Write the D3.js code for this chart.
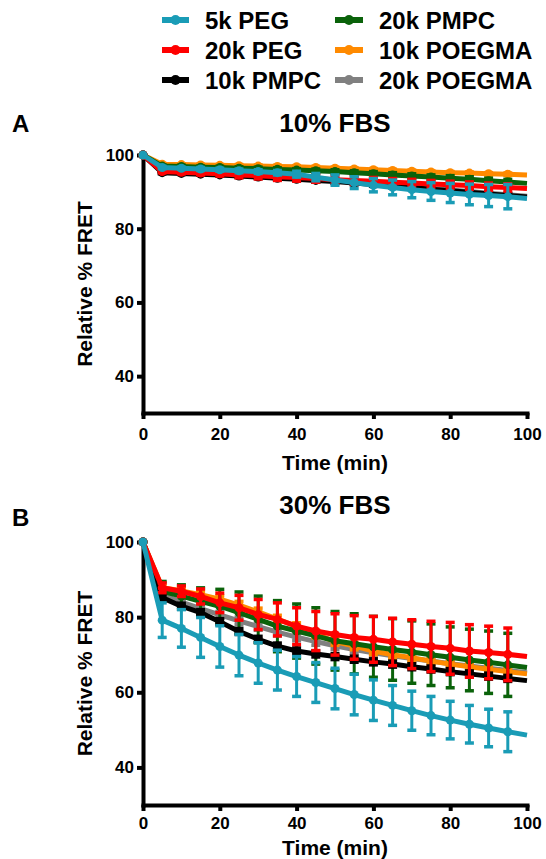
<!DOCTYPE html>
<html>
<head>
<meta charset="utf-8">
<script src="https://cdn.jsdelivr.net/npm/d3@7"></script>
<style>
  html, body { margin: 0; padding: 0; background: #fff; }
  svg { display: block; }
  text { font-family: "Liberation Sans", Arial, sans-serif; font-weight: bold; fill: #000; }
</style>
</head>
<body>
<svg id="chart" width="546" height="859"></svg>
<script>
// ---------------- DATA ----------------
const times = [0, 5, 10, 15, 20, 25, 30, 35, 40, 45, 50, 55, 60, 65, 70, 75, 80, 85, 90, 95, 100];
const seriesLabels = ["5k PEG", "20k PEG", "10k PMPC", "20k PMPC", "10k POEGMA", "20k POEGMA"];
const xTicks = [0, 20, 40, 60, 80, 100];
const yTicks = [40, 60, 80, 100];
const panelTitles = ["10% FBS", "30% FBS"];
const panelLetters = ["A", "B"];

// Panel A: 10% FBS (mean values)
const a_peg5k    = [100, 96.6, 96.4, 96.2, 96.0, 95.7, 95.5, 95.2, 94.8, 94.0, 93.2, 92.5, 91.8, 91.2, 90.6, 90.1, 89.7, 89.3, 89.0, 88.7, 88.2];
const a_peg20k   = [100, 95.5, 95.3, 95.1, 94.9, 94.6, 94.4, 94.1, 93.9, 93.6, 93.3, 93.1, 92.9, 92.6, 92.4, 92.1, 91.9, 91.7, 91.4, 91.2, 90.9];
const a_pmpc10k  = [100, 95.2, 95.0, 94.8, 94.6, 94.3, 94.0, 93.7, 93.4, 93.1, 92.8, 92.4, 92.0, 91.6, 91.2, 90.7, 90.3, 89.9, 89.4, 89.0, 88.6];
const a_pmpc20k  = [100, 97.0, 96.9, 96.7, 96.6, 96.4, 96.3, 96.1, 95.9, 95.7, 95.5, 95.2, 94.9, 94.6, 94.3, 94.0, 93.7, 93.4, 93.0, 92.7, 92.3];
const a_poeg10k  = [100, 97.5, 97.4, 97.3, 97.2, 97.1, 97.0, 96.9, 96.8, 96.6, 96.4, 96.2, 96.0, 95.8, 95.6, 95.4, 95.2, 95.1, 94.9, 94.8, 94.6];
const a_poeg20k  = [100, 95.4, 95.2, 95.0, 94.8, 94.5, 94.2, 93.9, 93.6, 93.3, 93.0, 92.6, 92.2, 91.8, 91.4, 90.9, 90.5, 90.1, 89.6, 89.2, 88.8];
// Panel A error (SD); null = no symbol at that time
const a_peg5kErr   = [0, 0.3, 0.3, 0.4, 0.4, 0.5, 0.5, 0.6, 0.8, 1.0, 1.4, 1.6, 1.8, 2.0, 2.2, 2.4, 2.6, 2.8, 3.0, 3.3, null];
const a_peg20kErr  = [0, 0.3, 0.4, 0.5, 0.6, 0.8, 0.9, 1.0, 1.0, 1.0, 1.0, 1.0, 1.0, 1.0, 1.0, 1.0, 1.0, 1.0, 1.0, 1.0, null];
const a_pmpc10kErr = [0, 0.3, 0.3, 0.3, 0.3, 0.4, 0.4, 0.4, 0.4, 0.5, 0.5, 0.5, 0.5, 0.5, 0.5, 0.5, 0.5, 0.5, 0.5, 0.5, null];
const a_pmpc20kErr = [0, 0.3, 0.3, 0.3, 0.3, 0.4, 0.4, 0.4, 0.4, 0.5, 0.5, 0.5, 0.6, 0.6, 0.6, 0.6, 0.7, 0.7, 0.7, 0.7, null];
const a_poeg10kErr = [0, 0.2, 0.2, 0.2, 0.2, 0.3, 0.3, 0.3, 0.3, 0.3, 0.3, 0.3, 0.3, 0.3, 0.3, 0.3, 0.3, 0.3, 0.3, 0.3, null];
const a_poeg20kErr = [0, 0.3, 0.3, 0.3, 0.3, 0.4, 0.4, 0.4, 0.4, 0.5, 0.5, 0.5, 0.5, 0.5, 0.5, 0.5, 0.5, 0.5, 0.5, 0.5, null];

// Panel B: 30% FBS (mean values)
const b_peg5k    = [100, 79.2, 77.0, 74.6, 72.2, 69.9, 67.8, 65.9, 64.2, 62.6, 61.0, 59.4, 57.9, 56.5, 55.1, 53.8, 52.6, 51.5, 50.5, 49.5, 48.6];
const b_peg20k   = [100, 87.8, 86.9, 85.5, 83.8, 82.5, 80.7, 79.4, 77.6, 76.3, 75.4, 74.6, 74.1, 73.4, 72.8, 72.2, 71.7, 71.0, 70.6, 70.1, 69.5];
const b_pmpc10k  = [100, 85.2, 82.9, 81.2, 78.8, 76.2, 74.1, 72.3, 71.0, 70.2, 69.5, 68.8, 68.1, 67.5, 66.8, 66.2, 65.5, 64.9, 64.3, 63.7, 63.1];
const b_pmpc20k  = [100, 86.9, 85.6, 84.2, 82.9, 81.2, 79.4, 77.6, 76.3, 75.0, 73.7, 72.9, 72.1, 71.4, 70.7, 70.0, 69.3, 68.6, 68.0, 67.3, 66.6];
const b_poeg10k  = [100, 87.8, 87.0, 86.0, 84.8, 83.2, 81.4, 79.5, 77.5, 75.5, 73.5, 72.3, 71.0, 70.0, 69.2, 68.3, 67.5, 66.8, 66.1, 65.5, 64.9];
const b_poeg20k  = [100, 86.0, 84.0, 82.3, 80.6, 79.0, 77.5, 76.0, 74.7, 73.5, 72.4, 71.4, 70.5, 69.7, 69.0, 68.3, 67.6, 67.0, 66.4, 65.8, 65.2];
// Panel B error (SD)
const b_peg5kErr   = [0, 4.6, 5.0, 5.3, 5.5, 5.5, 5.4, 5.3, 5.3, 5.3, 5.4, 5.4, 5.4, 5.3, 5.2, 5.1, 5.0, 5.0, 5.0, 5.3, null];
const b_peg20kErr  = [0, 1.3, 1.4, 2.0, 2.6, 3.3, 4.0, 4.4, 4.9, 5.2, 5.5, 5.8, 6.1, 6.3, 6.5, 6.7, 6.9, 7.0, 7.0, 7.0, null];
const b_pmpc10kErr = [0, 0.8, 0.8, 0.8, 0.8, 0.8, 0.8, 0.8, 0.8, 0.8, 0.8, 0.8, 0.8, 0.8, 0.8, 0.8, 0.8, 0.8, 0.8, 0.8, null];
const b_pmpc20kErr = [0, 2.6, 3.0, 3.6, 4.5, 5.5, 6.2, 6.8, 7.2, 7.5, 7.8, 8.0, 8.1, 8.2, 8.3, 8.2, 8.1, 8.2, 8.3, 8.4, null];
const b_poeg10kErr = [0, 0.8, 0.8, 0.9, 0.9, 1.0, 1.0, 1.0, 1.0, 1.0, 1.0, 1.0, 1.0, 1.0, 1.0, 1.0, 1.0, 1.0, 1.0, 1.0, null];
const b_poeg20kErr = [0, 0.8, 0.8, 0.9, 0.9, 1.0, 1.0, 1.0, 1.0, 1.0, 1.0, 1.0, 1.0, 1.0, 1.0, 1.0, 1.0, 1.0, 1.0, 1.0, null];

// ---------------- STYLE ----------------
const seriesColors = ["#1a9cb6", "#ff0000", "#000000", "#0a620a", "#ff8a00", "#808080"];

const panelAValues = [a_peg5k, a_peg20k, a_pmpc10k, a_pmpc20k, a_poeg10k, a_poeg20k];
const panelAErrors = [a_peg5kErr, a_peg20kErr, a_pmpc10kErr, a_pmpc20kErr, a_poeg10kErr, a_poeg20kErr];
const panelBValues = [b_peg5k, b_peg20k, b_pmpc10k, b_pmpc20k, b_poeg10k, b_poeg20k];
const panelBErrors = [b_peg5kErr, b_peg20kErr, b_pmpc10kErr, b_pmpc20kErr, b_poeg10kErr, b_poeg20kErr];

const svg = d3.select("#chart");

const plotLeft = 143, plotRight = 527;
const panels = [
  { top: 155, bottom: 413, values: panelAValues, errors: panelAErrors, title: panelTitles[0], letter: panelLetters[0], titleY: 132, letterY: 132, xTitleY: 470, pad: 9 },
  { top: 542, bottom: 805, values: panelBValues, errors: panelBErrors, title: panelTitles[1], letter: panelLetters[1], titleY: 514, letterY: 526, xTitleY: 855, pad: 6 }
];

const x = d3.scaleLinear().domain([0, 100]).range([plotLeft, plotRight]);

panels.forEach(p => {
  const y = d3.scaleLinear().domain([30, 100]).range([p.bottom, p.top]);
  const g = svg.append("g");

  // titles
  svg.append("text").attr("x", (plotLeft + plotRight) / 2).attr("y", p.titleY)
    .attr("text-anchor", "middle").style("font-size", "26px").text(p.title);
  svg.append("text").attr("x", 12).attr("y", p.letterY)
    .style("font-size", "24px").text(p.letter);

  // axes
  const yAxis = d3.axisLeft(y).tickValues(yTicks).tickSize(6).tickSizeOuter(0).tickPadding(3);
  const xAxis = d3.axisBottom(x).tickValues(xTicks).tickSize(6).tickSizeOuter(0).tickPadding(p.pad);
  const gy = g.append("g").attr("transform", `translate(${plotLeft},0)`).call(yAxis);
  const gx = g.append("g").attr("transform", `translate(0,${p.bottom})`).call(xAxis);
  [gx, gy].forEach(ax => {
    ax.select(".domain").attr("stroke", "#000").attr("stroke-width", 4).attr("stroke-linecap", "square");
    ax.selectAll(".tick line").attr("stroke", "#000").attr("stroke-width", 4);
    ax.selectAll(".tick text").style("font-size", "17px").style("font-weight", "bold")
      .style("font-family", '"Liberation Sans", Arial, sans-serif').attr("fill", "#000");
  });

  // axis titles
  svg.append("text").attr("x", (plotLeft + plotRight) / 2).attr("y", p.xTitleY)
    .attr("text-anchor", "middle").style("font-size", "21px").text("Time (min)");
  svg.append("text")
    .attr("transform", `translate(92,${(p.top + p.bottom) / 2}) rotate(-90)`)
    .attr("text-anchor", "middle").style("font-size", "21px").text("Relative % FRET");

  // series: draw last series first so first series ends on top
  const line = d3.line().x((d, i) => x(times[i])).y(d => y(d));
  for (let s = seriesLabels.length - 1; s >= 0; s--) {
    const vals = p.values[s], errs = p.errors[s], col = seriesColors[s];
    const sg = g.append("g");
    const pts = vals.map((v, i) => ({ t: times[i], v, e: errs[i] })).filter(d => d.e !== null);
    // error bars
    pts.filter(d => d.e > 0).forEach(d => {
      const cx = x(d.t), y1 = y(d.v + d.e), y2 = y(d.v - d.e);
      sg.append("line").attr("x1", cx).attr("x2", cx).attr("y1", y1).attr("y2", y2)
        .attr("stroke", col).attr("stroke-width", 3);
      [y1, y2].forEach(yy => sg.append("line").attr("x1", cx - 4.5).attr("x2", cx + 4.5)
        .attr("y1", yy).attr("y2", yy).attr("stroke", col).attr("stroke-width", 3.5));
    });
    sg.append("path").datum(vals).attr("d", line).attr("fill", "none")
      .attr("stroke", col).attr("stroke-width", 5).attr("stroke-linejoin", "round");
    sg.selectAll("circle").data(pts).enter().append("circle")
      .attr("cx", d => x(d.t)).attr("cy", d => y(d.v)).attr("r", 4.5).attr("fill", col);
  }
});

// legend
const legendCols = [{ x1: 162, x2: 189, tx: 205 }, { x1: 335, x2: 363, tx: 379 }];
const legendRows = [20, 50, 80];
seriesLabels.forEach((lab, i) => {
  const c = legendCols[Math.floor(i / 3)], r = legendRows[i % 3];
  svg.append("line").attr("x1", c.x1).attr("x2", c.x2).attr("y1", r).attr("y2", r)
    .attr("stroke", seriesColors[i]).attr("stroke-width", 6);
  svg.append("circle").attr("cx", (c.x1 + c.x2) / 2).attr("cy", r).attr("r", 5).attr("fill", seriesColors[i]);
  svg.append("text").attr("x", c.tx).attr("y", r + 8.6).style("font-size", "24px").text(lab);
});
</script>
</body>
</html>
